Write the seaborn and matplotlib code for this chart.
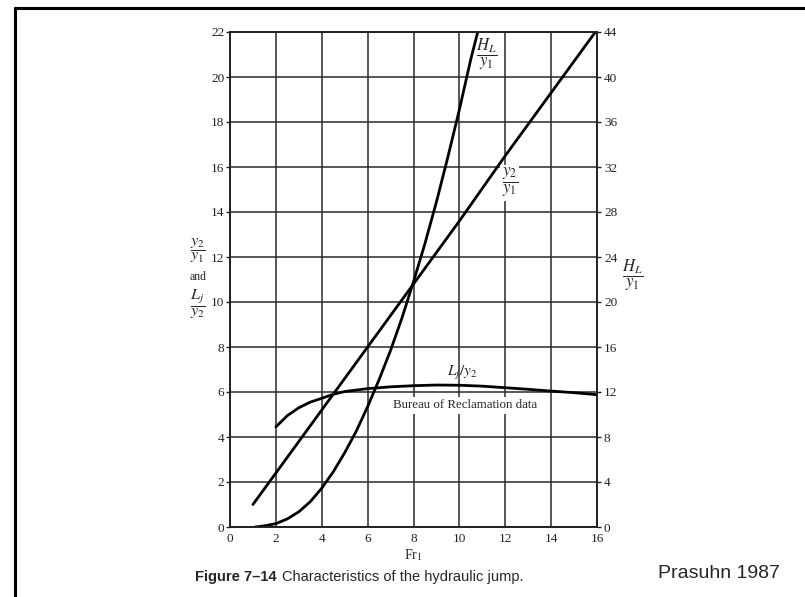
import matplotlib
matplotlib.use("Agg")
import matplotlib.pyplot as plt
from matplotlib.lines import Line2D
import seaborn as sns

# Froude number vs. depth ratio y2/y1 (left axis)
fr_depth = [1, 2, 4, 6, 8, 10, 12, 14, 16]
depth_ratio = [1.0, 2.4, 5.2, 8.0, 10.8, 13.6, 16.5, 19.3, 22.1]

# Froude number vs. head loss H_L/y1 (right axis)
fr_loss = [1.1, 1.5, 2, 2.5, 3, 3.5, 4, 4.5, 5, 5.5, 6, 6.5, 7, 7.5, 8, 8.5, 9, 9.5, 10, 10.5, 10.8]
head_loss = [0, 0.1, 0.3, 0.72, 1.35, 2.25, 3.45, 4.9, 6.6, 8.5, 10.7, 13.1, 15.7, 18.6, 21.8, 25.2,
             28.9, 32.9, 37.1, 41.6, 44.0]

# Froude number vs. jump length Lj/y2 (left axis, Bureau of Reclamation data)
fr_length = [2, 2.5, 3, 3.5, 4, 4.5, 5, 6, 7, 8, 9, 10, 11, 12, 13, 14, 15, 16]
length_ratio = [4.45, 4.95, 5.3, 5.55, 5.72, 5.9, 6.02, 6.15, 6.23, 6.28, 6.31, 6.3, 6.26, 6.19, 6.12,
                6.04, 5.97, 5.88]

x_ticks = list(range(0, 17, 2))
left_ticks = list(range(0, 23, 2))
right_ticks = list(range(0, 45, 4))

sns.set_style("white")
plt.rcParams['font.family'] = ['Liberation Serif', 'DejaVu Serif']
plt.rcParams['mathtext.fontset'] = 'stix'

fig = plt.figure(figsize=(8.05, 5.97), dpi=100)
ax = fig.add_axes([230 / 805, 1 - 527 / 597, 367 / 805, 495 / 597])
ax2 = ax.twinx()

ax.set_axisbelow(True)
ax.grid(True, color='#2a2a2a', lw=1.1)

sns.lineplot(x=fr_depth, y=depth_ratio, ax=ax, color='black', lw=2, legend=False)
sns.lineplot(x=fr_length, y=length_ratio, ax=ax, color='black', lw=2, legend=False)
sns.lineplot(x=fr_loss, y=head_loss, ax=ax2, color='black', lw=2, legend=False)

ax.set_xlim(0, 16)
ax.set_ylim(0, 22)
ax2.set_ylim(0, 44)
ax.set_xticks(x_ticks)
ax.set_yticks(left_ticks)
ax2.set_yticks(right_ticks)
ax.set_xlabel('')
ax.set_ylabel('')
ax2.set_ylabel('')

for a in (ax, ax2):
    for s in a.spines.values():
        s.set_color('#222')
        s.set_linewidth(1.2)
ax.tick_params(axis='y', direction='out', length=3, width=1, pad=1, labelsize=9.5, colors='#222')
ax.tick_params(axis='x', length=0, pad=4, labelsize=9.5, colors='#222')
ax2.tick_params(axis='y', direction='out', length=3, width=1, pad=2, labelsize=9.5, colors='#222')

# curve annotations
box = dict(facecolor='white', edgecolor='none', pad=1)
ax.text(11.2, 21.0, r'$\dfrac{H_L}{y_1}$', fontsize=12, ha='center', va='center', bbox=box)
ax.text(12.2, 15.3, r'$\dfrac{y_2}{y_1}$', fontsize=12, ha='center', va='center', bbox=box)
ax.text(10.1, 6.85, r'$L_j/y_2$', fontsize=11, ha='center', va='center')
ax.text(10.25, 5.4, 'Bureau of Reclamation data', fontsize=9.3, ha='center', va='center',
        bbox=dict(facecolor='white', edgecolor='none', pad=2))

# axis labels
fig.text(413 / 805, 1 - 555 / 597, r'Fr$_1$', fontsize=10, ha='center', va='center')
fig.text(198 / 805, 1 - 251 / 597, r'$\dfrac{y_2}{y_1}$', fontsize=11.5, ha='center', va='center')
fig.text(198 / 805, 1 - 277 / 597, 'and', fontsize=8.5, ha='center', va='center')
fig.text(198 / 805, 1 - 304 / 597, r'$\dfrac{L_j}{y_2}$', fontsize=11.5, ha='center', va='center')
fig.text(633 / 805, 1 - 275 / 597, r'$\dfrac{H_L}{y_1}$', fontsize=12, ha='center', va='center')

# caption and source
fig.text(195 / 805, 1 - 577 / 597, 'Figure 7–14', family='Liberation Sans', fontsize=10.5,
         fontweight='bold', ha='left', va='center')
fig.text(282 / 805, 1 - 577 / 597, 'Characteristics of the hydraulic jump.', family='Liberation Sans',
         fontsize=10.5, ha='left', va='center')
fig.text(658 / 805, 1 - 573 / 597, 'Prasuhn 1987', family='Liberation Sans', fontsize=14,
         ha='left', va='center')

# frame lines of the slide
fig.add_artist(Line2D([15 / 805, 15 / 805], [0, 1 - 8 / 597], transform=fig.transFigure,
                      color='black', lw=2.2))
fig.add_artist(Line2D([15 / 805, 1], [1 - 8 / 597, 1 - 8 / 597], transform=fig.transFigure,
                      color='black', lw=2.2))

fig.savefig('out.png', dpi=100)
